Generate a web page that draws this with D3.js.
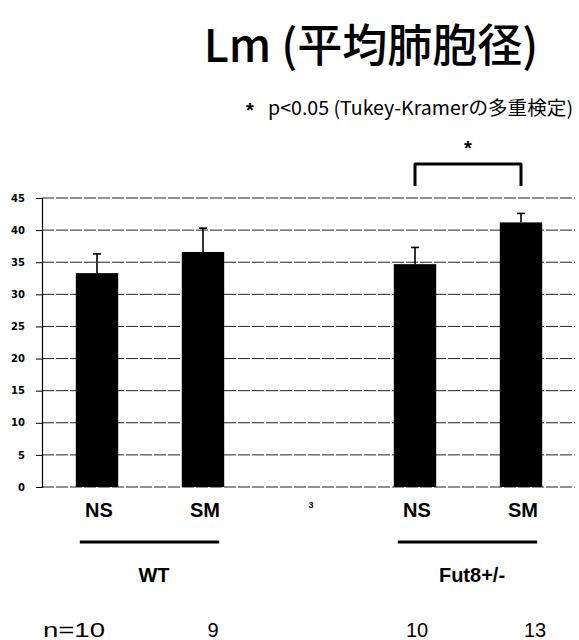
<!DOCTYPE html>
<html>
<head>
<meta charset="utf-8">
<script src="https://cdn.jsdelivr.net/npm/d3@7"></script>
<style>
  html, body { margin: 0; padding: 0; background: #fff; }
  svg { display: block; }
</style>
</head>
<body>
<svg id="chart" width="579" height="640"></svg>
<script>
// Mean linear intercept (Lm) per genotype / exposure group
const barKeys   = ["WT-NS", "WT-SM", "gap", "Fut8-NS", "Fut8-SM"];
const barLabels = ["NS", "SM", "3", "NS", "SM"];
const means     = [33.3, 36.6, null, 34.7, 41.2];
const errors    = [3.0, 3.7, null, 2.6, 1.4];
const sampleN   = ["n=10", "9", "", "10", "13"];
const groups    = ["WT", "Fut8+/-"];
const groupMembers = [["WT-NS", "WT-SM"], ["Fut8-NS", "Fut8-SM"]];
const yTicks    = [0, 5, 10, 15, 20, 25, 30, 35, 40, 45];
const sigPair   = ["Fut8-NS", "Fut8-SM"];

const svg = d3.select("#chart");
const jp = "'Noto Sans CJK JP', 'Noto Sans', sans-serif";
const sans = "'Liberation Sans', Arial, sans-serif";

const x = d3.scaleBand().domain(barKeys).range([44, 574]).paddingInner(0.6).paddingOuter(0.3);
const y = d3.scaleLinear().domain([0, 45]).range([487, 198]);

// Title and note
svg.append("text").attr("x", 371).attr("y", 62).attr("text-anchor", "middle")
  .attr("font-family", jp).attr("font-weight", 500).attr("font-size", 45)
  .text("Lm (平均肺胞径)");
svg.append("text").attr("x", 250).attr("y", 117).attr("text-anchor", "middle")
  .attr("font-family", sans).attr("font-weight", "bold").attr("font-size", 20).text("*");
svg.append("text").attr("x", 268).attr("y", 115)
  .attr("font-family", jp).attr("font-size", 19)
  .attr("textLength", 305).attr("lengthAdjust", "spacingAndGlyphs")
  .text("p<0.05 (Tukey-Kramerの多重検定)");

// Gridlines
svg.append("g").selectAll("line").data(yTicks).join("line")
  .attr("x1", 42).attr("x2", 575)
  .attr("y1", d => y(d)).attr("y2", d => y(d))
  .attr("stroke", "#222").attr("stroke-width", 1)
  .attr("stroke-dasharray", "12,2");

// Y axis
const yAxis = d3.axisLeft(y).tickValues(yTicks).tickSize(6).tickPadding(11);
const ag = svg.append("g").attr("transform", "translate(42,0)").call(yAxis);
ag.select(".domain").attr("stroke", "#000").attr("stroke-width", 1.2);
ag.selectAll(".tick line").attr("stroke", "#000");
ag.selectAll(".tick text").attr("font-family", "'DejaVu Sans', Verdana, sans-serif")
  .attr("font-weight", "bold").attr("font-size", 10).attr("fill", "#000");

// Bars
const data = barKeys.map((k, i) => ({ key: k, mean: means[i], err: errors[i] })).filter(d => d.mean != null);
svg.append("g").selectAll("rect").data(data).join("rect")
  .attr("x", d => x(d.key)).attr("width", x.bandwidth())
  .attr("y", d => y(d.mean)).attr("height", d => y(0) - y(d.mean))
  .attr("fill", "#000");

// Error bars (upper)
const eb = svg.append("g").attr("stroke", "#000").attr("stroke-width", 1.6);
eb.selectAll("line.v").data(data).join("line").attr("class", "v")
  .attr("x1", d => x(d.key) + x.bandwidth() / 2).attr("x2", d => x(d.key) + x.bandwidth() / 2)
  .attr("y1", d => y(d.mean)).attr("y2", d => y(d.mean + d.err));
eb.selectAll("line.c").data(data).join("line").attr("class", "c")
  .attr("x1", d => x(d.key) + x.bandwidth() / 2 - 4).attr("x2", d => x(d.key) + x.bandwidth() / 2 + 4)
  .attr("y1", d => y(d.mean + d.err)).attr("y2", d => y(d.mean + d.err));

// Category labels
svg.append("g").selectAll("text").data(barKeys).join("text")
  .attr("x", k => x(k) + x.bandwidth() / 2 + 2)
  .attr("y", (k, i) => barLabels[i] === "3" ? 508 : 517)
  .attr("text-anchor", "middle")
  .attr("font-family", sans).attr("font-weight", "bold")
  .attr("font-size", (k, i) => barLabels[i] === "3" ? 9 : 20)
  .text((k, i) => barLabels[i]);

// Group underlines and names
groupMembers.forEach((m, gi) => {
  const x0 = x(m[0]) + 4, x1 = x(m[1]) + x.bandwidth() - 5;
  svg.append("line").attr("x1", x0).attr("x2", x1).attr("y1", 542).attr("y2", 542)
    .attr("stroke", "#000").attr("stroke-width", 3);
  svg.append("text").attr("x", (x(m[0]) + x(m[1]) + x.bandwidth()) / 2 + 4).attr("y", 582)
    .attr("text-anchor", "middle").attr("font-family", sans).attr("font-weight", "bold")
    .attr("font-size", 20).text(groups[gi]);
});

// Sample sizes
svg.append("g").selectAll("text").data(barKeys).join("text")
  .attr("x", (k, i) => i === 0 ? 74 : x(k) + x.bandwidth() / 2 + (i === 4 ? 14 : (i === 3 ? 2 : 10)))
  .attr("y", 637)
  .attr("text-anchor", "middle").attr("font-family", sans).attr("font-size", 20)
  .each(function (k, i) {
    if (i === 0) d3.select(this).attr("textLength", 62).attr("lengthAdjust", "spacingAndGlyphs");
  })
  .text((k, i) => sampleN[i]);

// Significance bracket
const bx0 = x(sigPair[0]) + x.bandwidth() / 2, bx1 = x(sigPair[1]) + x.bandwidth() / 2;
svg.append("path")
  .attr("d", `M${bx0},186 V164 H${bx1} V186`)
  .attr("fill", "none").attr("stroke", "#000").attr("stroke-width", 3)
  .attr("stroke-linejoin", "round");
svg.append("text").attr("x", (bx0 + bx1) / 2).attr("y", 155).attr("text-anchor", "middle")
  .attr("font-family", sans).attr("font-weight", "bold").attr("font-size", 20).text("*");
</script>
</body>
</html>
